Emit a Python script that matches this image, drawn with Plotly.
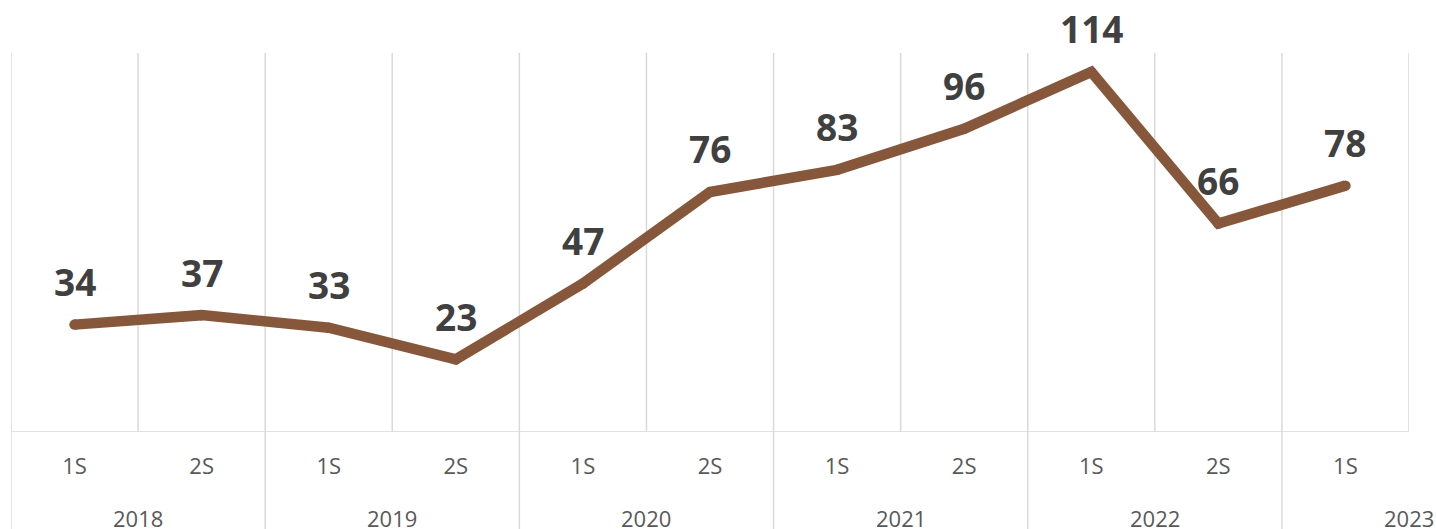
import plotly.graph_objects as go

halves = ["1S", "2S", "1S", "2S", "1S", "2S", "1S", "2S", "1S", "2S", "1S"]
years = ["2018", "2018", "2019", "2019", "2020", "2020", "2021", "2021", "2022", "2022", "2023"]
values = [34, 37, 33, 23, 47, 76, 83, 96, 114, 66, 78]

LINE_COLOR = "#87573B"
GRID_COLOR = "#D9D9D9"
LABEL_COLOR = "#404040"
AXIS_TEXT = "#595959"

idx = list(range(len(values)))

fig = go.Figure()
fig.add_trace(go.Scatter(
    x=idx, y=values, mode="lines+markers",
    line=dict(color=LINE_COLOR, width=10.5),
    marker=dict(color=LINE_COLOR, size=10.5, line=dict(width=0)),
    hoverinfo="skip", showlegend=False, cliponaxis=False,
))

shapes = []
# vertical gridlines at category boundaries
for k in range(len(values) + 1):
    shapes.append(dict(type="line", xref="x", yref="paper", x0=k - 0.5, x1=k - 0.5,
                       y0=0, y1=1, line=dict(color=GRID_COLOR, width=1.5), layer="below"))
# year dividers below the axis
year_starts = [i for i in idx if i == 0 or years[i] != years[i - 1]]
for s in year_starts:
    shapes.append(dict(type="line", xref="x", yref="paper", x0=s - 0.5, x1=s - 0.5,
                       y0=0, y1=-0.27, line=dict(color=GRID_COLOR, width=1.5), layer="below"))
# axis line
shapes.append(dict(type="line", xref="paper", yref="y", x0=0, x1=1, y0=0, y1=0,
                   line=dict(color=GRID_COLOR, width=1.5), layer="below"))

annotations = []
for i, v in zip(idx, values):
    annotations.append(dict(x=i, y=v, xref="x", yref="y", text=str(v), showarrow=False,
                            yshift=43, xanchor="center", yanchor="middle",
                            font=dict(family="Open Sans", size=37, color=LABEL_COLOR, weight="bold")))
for s in year_starts:
    annotations.append(dict(x=s - 0.5 + 1.0, y=-0.227, xref="x", yref="paper", text=years[s],
                            showarrow=False, xanchor="center", yanchor="middle",
                            font=dict(family="Open Sans", size=22, color=AXIS_TEXT)))

fig.update_layout(
    width=1436, height=529,
    margin=dict(l=11, r=27, t=53, b=97),
    paper_bgcolor="white", plot_bgcolor="white",
    shapes=shapes, annotations=annotations,
    xaxis=dict(range=[-0.5, len(values) - 0.5], tickmode="array", tickvals=idx, ticktext=halves,
               showgrid=False, zeroline=False, showline=False, ticks="",
               ticklabelstandoff=19,
               tickfont=dict(family="Open Sans", size=22, color=AXIS_TEXT)),
    yaxis=dict(range=[0, 120], showgrid=False, zeroline=False, showline=False,
               showticklabels=False, ticks=""),
)

fig.write_html("out.html", config={"displayModeBar": False, "staticPlot": True},
               post_script="document.body.style.margin='0';document.body.style.overflow='hidden';")
